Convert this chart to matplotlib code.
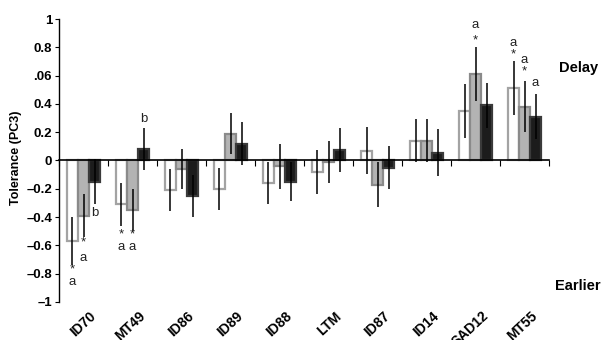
import numpy as np
import matplotlib
matplotlib.use('Agg')
import matplotlib.pyplot as plt

plt.rcParams['font.family'] = ['Liberation Sans', 'DejaVu Sans']

groups = ['ID70', 'MT49', 'ID86', 'ID89', 'ID88', 'LTM', 'ID87', 'ID14', 'SAD12', 'MT55']

# three series per group: white, grey, black
white_vals = [-0.57, -0.31, -0.21, -0.20, -0.16, -0.08, 0.07, 0.14, 0.35, 0.51]
grey_vals = [-0.39, -0.35, -0.06, 0.19, -0.04, -0.01, -0.17, 0.14, 0.61, 0.38]
black_vals = [-0.15, 0.08, -0.25, 0.12, -0.15, 0.075, -0.05, 0.055, 0.39, 0.31]

white_err = [0.17, 0.15, 0.15, 0.15, 0.15, 0.155, 0.165, 0.15, 0.19, 0.19]
grey_err = [0.15, 0.15, 0.14, 0.145, 0.16, 0.15, 0.16, 0.15, 0.19, 0.18]
black_err = [0.16, 0.15, 0.15, 0.15, 0.14, 0.155, 0.155, 0.165, 0.16, 0.16]

# significance labels: group index, series index, text, y value
ann_group = [0, 0, 0, 0, 0, 1, 1, 1, 1, 1, 8, 8, 9, 9, 9, 9, 9]
ann_series = [0, 0, 1, 1, 2, 0, 0, 1, 1, 2, 1, 1, 0, 0, 1, 1, 2]
ann_text = ['*', 'a', '*', 'a', 'b', '*', 'a', '*', 'a', 'b', '*', 'a', '*', 'a', '*', 'a', 'a']
ann_y = [-0.77, -0.86, -0.58, -0.69, -0.37, -0.52, -0.61, -0.52, -0.61, 0.29,
         0.85, 0.96, 0.75, 0.83, 0.63, 0.71, 0.55]

yticks = [1, 0.8, 0.6, 0.4, 0.2, 0, -0.2, -0.4, -0.6, -0.8, -1]
ytick_labels = ['1', '0.8', '.06', '0.4', '0.2', '0', '\u20130.2', '\u20130.4',
                '\u20130.6', '\u20130.8', '\u20131']


def main():
    fig = plt.figure(figsize=(6.04, 3.4), dpi=100)
    ax = fig.add_axes([0.0977, 0.112, 0.8113, 0.832])

    x = np.arange(len(groups))
    w = 0.225
    series = [(white_vals, white_err, 'white', '#a3a3a3'),
              (grey_vals, grey_err, '#b3b3b3', '#8a8a8a'),
              (black_vals, black_err, '#1c1c1c', '#3a3a3a')]
    offsets = [-w, 0, w]
    for (vals, errs, fc, ec), off in zip(series, offsets):
        ax.bar(x + off, vals, width=w, color=fc, edgecolor=ec, linewidth=1.6, zorder=2)
        ax.errorbar(x + off, vals, yerr=errs, fmt='none', ecolor='black',
                    elinewidth=1.1, capsize=0, zorder=3)

    for g, s, t, y in zip(ann_group, ann_series, ann_text, ann_y):
        ax.text(g + offsets[s], y, t, ha='center', va='center', fontsize=9.5,
                color='#222222', zorder=4)

    ax.set_xlim(-0.5, len(groups) - 0.5)
    ax.set_ylim(-1, 1)
    ax.spines['top'].set_visible(False)
    ax.spines['right'].set_visible(False)
    ax.spines['bottom'].set_position(('data', 0))
    ax.spines['left'].set_linewidth(1.0)
    ax.spines['bottom'].set_linewidth(1.2)

    ax.set_xticks(np.arange(len(groups) + 1) - 0.5)
    ax.set_xticklabels([])
    ax.tick_params(axis='x', direction='out', length=4, width=0.8)
    for i, name in enumerate(groups):
        ax.text(i + 0.12, -1.05, name, rotation=43, ha='right', va='top',
                rotation_mode='anchor', fontsize=10, fontweight='bold')

    ax.set_yticks(yticks)
    ax.set_yticklabels(ytick_labels, fontsize=9.5, fontweight='bold')
    ax.tick_params(axis='y', direction='out', length=3, width=0.8, pad=2)

    fig.text(0.027, 0.535, 'Tolerance (PC3)', rotation=90, ha='center', va='center',
             fontsize=9, fontweight='bold')
    fig.text(0.99, 0.80, 'Delay', ha='right', va='center', fontsize=10.5, fontweight='bold')
    fig.text(0.995, 0.16, 'Earlier', ha='right', va='center', fontsize=10.5, fontweight='bold')

    fig.savefig('out.png', dpi=100)


if __name__ == '__main__':
    main()
